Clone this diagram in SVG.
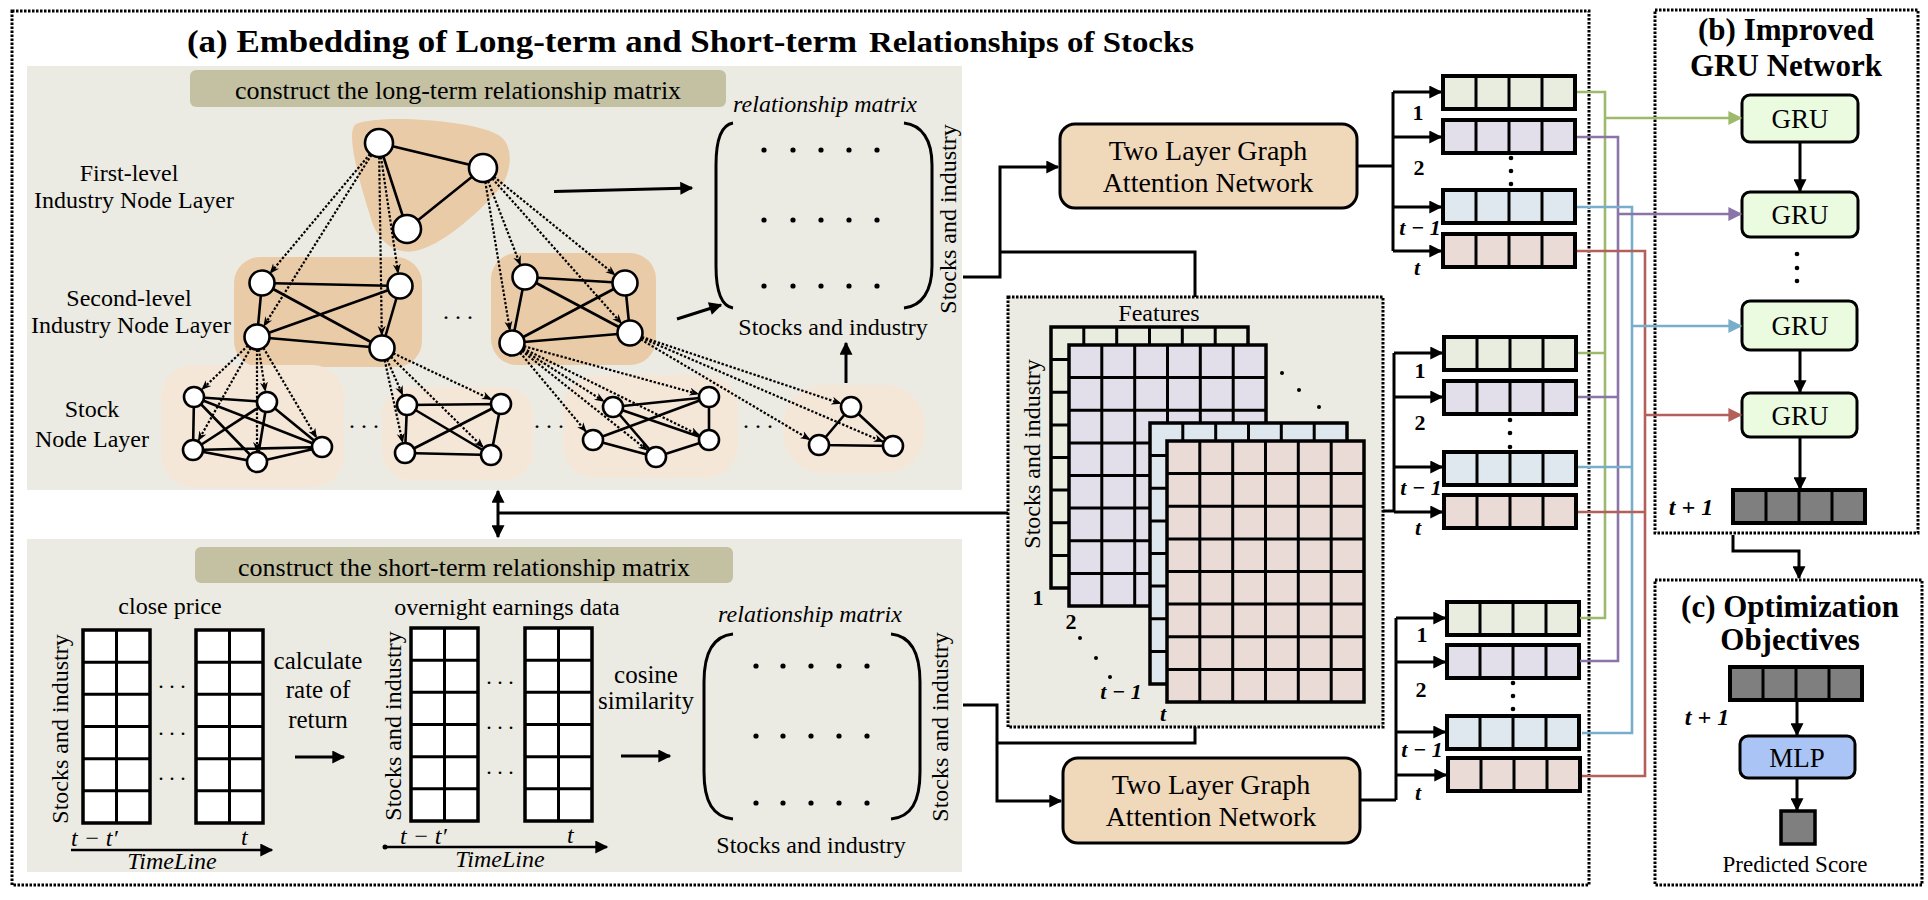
<svg xmlns="http://www.w3.org/2000/svg" xmlns:xlink="http://www.w3.org/1999/xlink" width="1928" height="900" viewBox="0 0 1928 900">
<style>
.t{font-family:"Liberation Serif","Times New Roman",serif;fill:#000}
.b{font-weight:bold}
.i{font-style:italic}
.dbox{fill:none;stroke:#000;stroke-width:3;stroke-dasharray:2.5 1.5}
.edge{stroke:#000;stroke-width:2.6;fill:none}
.dash{stroke:#000;stroke-width:2.2;stroke-dasharray:2.4 1.8;fill:none}
.nd{fill:#fff;stroke:#000;stroke-width:2.6}
.conn{stroke:#000;stroke-width:3;fill:none}
.panel{fill:#ECEBE3}
.pill{fill:#C4C1A2}
.blobA{fill:#EACBA8}
.blobB{fill:#F5E7D8}
.gru{fill:#EAFBE0;stroke:#000;stroke-width:3}
.gat{fill:#F0D9BB;stroke:#000;stroke-width:3}
.cg{stroke:#9DBA6C;stroke-width:2.6;fill:none}
.cp{stroke:#8B74A8;stroke-width:2.6;fill:none}
.cb{stroke:#78AEC9;stroke-width:2.6;fill:none}
.cr{stroke:#B4605A;stroke-width:2.6;fill:none}
</style>
<defs>
<marker id="ah" viewBox="0 0 10 10" refX="9" refY="5" markerWidth="15" markerHeight="13" markerUnits="userSpaceOnUse" orient="auto"><path d="M0,0 L10,5 L0,10 z" fill="#000"/></marker>
<marker id="dh" viewBox="0 0 10 10" refX="9" refY="5" markerWidth="10" markerHeight="10" markerUnits="userSpaceOnUse" orient="auto"><path d="M0,1 L10,5 L0,9 L3,5 z" fill="#000"/></marker>
<marker id="ag" viewBox="0 0 10 10" refX="9" refY="5" markerWidth="15" markerHeight="14" markerUnits="userSpaceOnUse" orient="auto"><path d="M0,0 L10,5 L0,10 z" fill="#9DBA6C"/></marker>
<marker id="ap" viewBox="0 0 10 10" refX="9" refY="5" markerWidth="15" markerHeight="14" markerUnits="userSpaceOnUse" orient="auto"><path d="M0,0 L10,5 L0,10 z" fill="#8B74A8"/></marker>
<marker id="ab" viewBox="0 0 10 10" refX="9" refY="5" markerWidth="15" markerHeight="14" markerUnits="userSpaceOnUse" orient="auto"><path d="M0,0 L10,5 L0,10 z" fill="#78AEC9"/></marker>
<marker id="ar" viewBox="0 0 10 10" refX="9" refY="5" markerWidth="15" markerHeight="14" markerUnits="userSpaceOnUse" orient="auto"><path d="M0,0 L10,5 L0,10 z" fill="#B4605A"/></marker>
<g id="vec"><rect width="132" height="33" stroke="#000" stroke-width="4"/><path d="M33 0V33M66 0V33M99 0V33" stroke="#000" stroke-width="3" fill="none"/></g>
<g id="fg"><rect width="197" height="261" stroke="#000" stroke-width="3.5"/><path d="M32.8 0V261M65.7 0V261M98.5 0V261M131.3 0V261M164.2 0V261M0 32.6H197M0 65.3H197M0 97.9H197M0 130.5H197M0 163.1H197M0 195.8H197M0 228.4H197" stroke="#000" stroke-width="3" fill="none"/></g>
<g id="sm"><rect width="67" height="193" fill="#fff" stroke="#000" stroke-width="3.5"/><path d="M33.5 0V193M0 32.2H67M0 64.3H67M0 96.5H67M0 128.7H67M0 160.8H67" stroke="#000" stroke-width="3" fill="none"/></g>
</defs>
<rect width="1928" height="900" fill="#fff"/>

<!-- (a) frame -->
<g id="frame-a">
<rect class="dbox" x="12" y="11" width="1577" height="874"/>
<text class="t b" x="187" y="52" font-size="32" textLength="670" lengthAdjust="spacingAndGlyphs">(a) Embedding of Long-term and Short-term</text>
<text class="t b" x="869" y="52" font-size="29" textLength="325" lengthAdjust="spacingAndGlyphs">Relationships of Stocks</text>
</g>

<!-- long-term panel -->
<g id="long-term-panel">
<rect class="panel" x="27" y="66" width="935" height="424"/>
<rect class="pill" x="190" y="70" width="536" height="37" rx="6"/>
<text class="t" x="458" y="99" font-size="26" text-anchor="middle">construct the long-term relationship matrix</text>
<text class="t" x="129" y="181" font-size="24" text-anchor="middle">First-level</text>
<text class="t" x="134" y="208" font-size="24" text-anchor="middle">Industry Node Layer</text>
<text class="t" x="129" y="306" font-size="24" text-anchor="middle">Second-level</text>
<text class="t" x="131" y="333" font-size="24" text-anchor="middle">Industry Node Layer</text>
<text class="t" x="92" y="417" font-size="24" text-anchor="middle">Stock</text>
<text class="t" x="92" y="447" font-size="24" text-anchor="middle">Node Layer</text>
</g>

<g id="industry-graph">
<path class="blobA" d="M356 124 C380 114,475 120,500 136 C514 146,512 172,500 188 C475 217,440 246,415 251 C394 255,378 240,372 222 C362 190,344 132,356 124 Z"/>
<rect class="blobA" x="234" y="257" width="188" height="110" rx="26"/>
<rect class="blobA" x="491" y="253" width="165" height="112" rx="26"/>
<rect class="blobB" x="161" y="365" width="183" height="122" rx="32"/>
<rect class="blobB" x="382" y="387" width="151" height="93" rx="28"/>
<rect class="blobB" x="563" y="375" width="175" height="103" rx="32"/>
<rect class="blobB" x="783" y="385" width="142" height="88" rx="40"/>
<!-- solid edges -->
<path class="edge" d="M379 143L483 168L407 229Z"/>
<path class="edge" d="M262 283L400 286M262 283L382 348M400 286L257 337M257 337L382 348M262 283L257 337M400 286L382 348"/>
<path class="edge" d="M525 277L625 283M525 277L630 333M625 283L512 343M512 343L630 333M525 277L512 343M625 283L630 333"/>
<path class="edge" d="M194 397L267 402M194 397L193 450M194 397L257 462M194 397L322 447M267 402L193 450M267 402L257 462M267 402L322 447M193 450L257 462M257 462L322 447M193 450L322 447"/>
<path class="edge" d="M407 405L501 404M407 405L405 453M407 405L491 455M501 404L405 453M405 453L491 455M501 404L491 455"/>
<path class="edge" d="M613 407L709 397M613 407L709 440M593 440L709 397M593 440L656 457M613 407L656 457M656 457L709 440M709 397L709 440"/>
<path class="edge" d="M851 407L819 445M851 407L893 446M819 445L893 446"/>
<!-- dotted arrows -->
<g marker-end="url(#dh)">
<path class="dash" d="M370 154L270.3 273"/>
<path class="dash" d="M371.5 154.8L263.9 326"/>
<path class="dash" d="M381 157L398.1 273.1"/>
<path class="dash" d="M379.2 157L381.8 335"/>
<path class="dash" d="M488 181L520.3 264.9"/>
<path class="dash" d="M493.9 176.8L614.9 274.8"/>
<path class="dash" d="M485.3 181.8L509.9 330.2"/>
<path class="dash" d="M492.3 178.5L621.4 323.3"/>
<path class="dash" d="M248 345.6L202 389.4"/>
<path class="dash" d="M258.9 349.4L265.3 391.1"/>
<path class="dash" d="M250.8 347.9L198.4 440.4"/>
<path class="dash" d="M257 349.5L257 451"/>
<path class="dash" d="M263.4 347.8L316.4 437.5"/>
<path class="dash" d="M387 359.5L402.6 394.9"/>
<path class="dash" d="M393.3 353.3L491 399.3"/>
<path class="dash" d="M384.7 360.2L402.6 442.3"/>
<path class="dash" d="M390.9 356.8L483.1 447.3"/>
<path class="dash" d="M522.6 349.7L603.7 401.1"/>
<path class="dash" d="M520 352.6L586 431.6"/>
<path class="dash" d="M521.8 350.8L647.4 450.2"/>
<path class="dash" d="M524 346.3L698.4 394.1"/>
<path class="dash" d="M523.2 348.5L699.1 435.1"/>
<path class="dash" d="M641.9 337L840.6 403.5"/>
<path class="dash" d="M640.8 339.4L809.5 439.4"/>
<path class="dash" d="M641.5 337.9L882.9 441.7"/>
</g>
<!-- nodes -->
<circle class="nd" cx="379" cy="143" r="14"/><circle class="nd" cx="483" cy="168" r="14"/><circle class="nd" cx="407" cy="229" r="14"/>
<circle class="nd" cx="262" cy="283" r="12.5"/><circle class="nd" cx="400" cy="286" r="12.5"/><circle class="nd" cx="257" cy="337" r="12.5"/><circle class="nd" cx="382" cy="348" r="12.5"/>
<circle class="nd" cx="525" cy="277" r="12.5"/><circle class="nd" cx="625" cy="283" r="12.5"/><circle class="nd" cx="512" cy="343" r="12.5"/><circle class="nd" cx="630" cy="333" r="12.5"/>
<circle class="nd" cx="194" cy="397" r="10"/><circle class="nd" cx="267" cy="402" r="10"/><circle class="nd" cx="193" cy="450" r="10"/><circle class="nd" cx="257" cy="462" r="10"/><circle class="nd" cx="322" cy="447" r="10"/>
<circle class="nd" cx="407" cy="405" r="10"/><circle class="nd" cx="501" cy="404" r="10"/><circle class="nd" cx="405" cy="453" r="10"/><circle class="nd" cx="491" cy="455" r="10"/>
<circle class="nd" cx="613" cy="407" r="10"/><circle class="nd" cx="709" cy="397" r="10"/><circle class="nd" cx="593" cy="440" r="10"/><circle class="nd" cx="656" cy="457" r="10"/><circle class="nd" cx="709" cy="440" r="10"/>
<circle class="nd" cx="851" cy="407" r="10"/><circle class="nd" cx="819" cy="445" r="10"/><circle class="nd" cx="893" cy="446" r="10"/>
<text class="t" x="458" y="319" font-size="24" text-anchor="middle">. . .</text>
<text class="t" x="364" y="428" font-size="24" text-anchor="middle">. . .</text>
<text class="t" x="549" y="428" font-size="24" text-anchor="middle">. . .</text>
<text class="t" x="758" y="428" font-size="24" text-anchor="middle">. . .</text>
</g>

<g id="long-matrix">
<text class="t i" x="825" y="112" font-size="24" text-anchor="middle">relationship matrix</text>
<path class="conn" d="M733 123 C721 125,716 140,716 165 L716 266 C716 291,721 306,733 308"/>
<path class="conn" d="M904 123 C922 125,932 140,932 165 L932 266 C932 291,922 306,904 308"/>
<g fill="#000"><circle cx="764" cy="150" r="2.6"/><circle cx="793" cy="150" r="2.6"/><circle cx="821" cy="150" r="2.6"/><circle cx="849" cy="150" r="2.6"/><circle cx="877" cy="150" r="2.6"/>
<circle cx="764" cy="220" r="2.6"/><circle cx="793" cy="220" r="2.6"/><circle cx="821" cy="220" r="2.6"/><circle cx="849" cy="220" r="2.6"/><circle cx="877" cy="220" r="2.6"/>
<circle cx="764" cy="286" r="2.6"/><circle cx="793" cy="286" r="2.6"/><circle cx="821" cy="286" r="2.6"/><circle cx="849" cy="286" r="2.6"/><circle cx="877" cy="286" r="2.6"/></g>
<text class="t" x="833" y="335" font-size="24" text-anchor="middle">Stocks and industry</text>
<text class="t" font-size="24" text-anchor="middle" transform="translate(956,219) rotate(-90)">Stocks and industry</text>
</g>

<!-- short-term panel -->
<g id="short-term-panel">
<rect class="panel" x="27" y="539" width="935" height="333"/>
<rect class="pill" x="195" y="547" width="538" height="36" rx="6"/>
<text class="t" x="464" y="576" font-size="26" text-anchor="middle">construct the short-term relationship matrix</text>
<text class="t" x="170" y="614" font-size="24" text-anchor="middle">close price</text>
<text class="t" font-size="24" text-anchor="middle" transform="translate(68,729) rotate(-90)">Stocks and industry</text>
<use href="#sm" x="83" y="630"/>
<use href="#sm" x="196" y="630"/>
<text class="t" x="172" y="688" font-size="22" text-anchor="middle">. . .</text>
<text class="t" x="172" y="735" font-size="22" text-anchor="middle">. . .</text>
<text class="t" x="172" y="780" font-size="22" text-anchor="middle">. . .</text>
<text class="t i" x="71" y="846" font-size="24">t − t′</text>
<text class="t i" x="241" y="845" font-size="24">t</text>
<path class="edge" d="M71 850H272" marker-end="url(#ah)"/>
<text class="t i" x="172" y="869" font-size="24" text-anchor="middle">TimeLine</text>
<text class="t" x="318" y="669" font-size="25" text-anchor="middle">calculate</text>
<text class="t" x="318" y="698" font-size="25" text-anchor="middle">rate of</text>
<text class="t" x="318" y="728" font-size="25" text-anchor="middle">return</text>
<path class="conn" d="M295 757H344" marker-end="url(#ah)"/>
<text class="t" x="507" y="615" font-size="24" text-anchor="middle">overnight earnings data</text>
<text class="t" font-size="24" text-anchor="middle" transform="translate(401,726) rotate(-90)">Stocks and industry</text>
<use href="#sm" x="411" y="628"/>
<use href="#sm" x="525" y="628"/>
<text class="t" x="500" y="684" font-size="22" text-anchor="middle">. . .</text>
<text class="t" x="500" y="729" font-size="22" text-anchor="middle">. . .</text>
<text class="t" x="500" y="774" font-size="22" text-anchor="middle">. . .</text>
<circle cx="385" cy="847" r="2.5" fill="#000"/>
<text class="t i" x="400" y="844" font-size="24">t − t′</text>
<text class="t i" x="567" y="843" font-size="24">t</text>
<path class="edge" d="M385 847H607" marker-end="url(#ah)"/>
<text class="t i" x="500" y="867" font-size="24" text-anchor="middle">TimeLine</text>
<text class="t" x="646" y="683" font-size="25" text-anchor="middle">cosine</text>
<text class="t" x="646" y="709" font-size="25" text-anchor="middle">similarity</text>
<path class="conn" d="M621 756H670" marker-end="url(#ah)"/>
</g>

<g id="short-matrix">
<text class="t i" x="810" y="622" font-size="24" text-anchor="middle">relationship matrix</text>
<path class="conn" d="M733 634 C713 636,704 652,704 682 L704 772 C704 802,713 817,733 819"/>
<path class="conn" d="M891 634 C911 636,920 652,920 682 L920 772 C920 802,911 817,891 819"/>
<g fill="#000"><circle cx="756" cy="666" r="2.6"/><circle cx="783" cy="666" r="2.6"/><circle cx="811" cy="666" r="2.6"/><circle cx="839" cy="666" r="2.6"/><circle cx="867" cy="666" r="2.6"/>
<circle cx="756" cy="736" r="2.6"/><circle cx="783" cy="736" r="2.6"/><circle cx="811" cy="736" r="2.6"/><circle cx="839" cy="736" r="2.6"/><circle cx="867" cy="736" r="2.6"/>
<circle cx="756" cy="803" r="2.6"/><circle cx="783" cy="803" r="2.6"/><circle cx="811" cy="803" r="2.6"/><circle cx="839" cy="803" r="2.6"/><circle cx="867" cy="803" r="2.6"/></g>
<text class="t" x="811" y="853" font-size="24" text-anchor="middle">Stocks and industry</text>
<text class="t" font-size="24" text-anchor="middle" transform="translate(948,727) rotate(-90)">Stocks and industry</text>
</g>

<!-- features stack -->
<g id="features">
<rect class="panel" x="1008" y="297" width="375" height="430"/>
<rect class="dbox" x="1008" y="297" width="375" height="430"/>
<text class="t" x="1159" y="321" font-size="24" text-anchor="middle">Features</text>
<text class="t" font-size="24" text-anchor="middle" transform="translate(1040,454) rotate(-90)">Stocks and industry</text>
<use href="#fg" x="1051" y="327" fill="#E9EDDF"/>
<use href="#fg" x="1069" y="345" fill="#E2DFEA"/>
<use href="#fg" x="1150" y="423" fill="#DEE6EE"/>
<use href="#fg" x="1167" y="441" fill="#EADBD6"/>
<g fill="#000"><circle cx="1282" cy="373" r="2"/><circle cx="1299" cy="390" r="2"/><circle cx="1319" cy="407" r="2"/>
<circle cx="1080" cy="638" r="2"/><circle cx="1096" cy="658" r="2"/><circle cx="1110" cy="677" r="2"/></g>
<text class="t b" x="1038" y="605" font-size="22" text-anchor="middle">1</text>
<text class="t b" x="1071" y="629" font-size="22" text-anchor="middle">2</text>
<text class="t b i" x="1121" y="699" font-size="22" text-anchor="middle">t − 1</text>
<text class="t b i" x="1163" y="721" font-size="22" text-anchor="middle">t</text>
</g>

<!-- GAT boxes -->
<g id="gat-long">
<rect class="gat" x="1060" y="124" width="297" height="84" rx="15"/>
<text class="t" x="1208" y="160" font-size="28" text-anchor="middle">Two Layer Graph</text>
<text class="t" x="1208" y="192" font-size="28" text-anchor="middle">Attention Network</text>
</g>
<g id="gat-short">
<rect class="gat" x="1063" y="758" width="297" height="85" rx="15"/>
<text class="t" x="1211" y="794" font-size="28" text-anchor="middle">Two Layer Graph</text>
<text class="t" x="1211" y="826" font-size="28" text-anchor="middle">Attention Network</text>
</g>

<!-- vector groups -->
<g id="vectors-top">
<use href="#vec" x="1443" y="76" fill="#E9EDDF"/>
<use href="#vec" x="1443" y="120" fill="#E2DFEA"/>
<use href="#vec" x="1443" y="190" fill="#DEE8EE"/>
<use href="#vec" x="1443" y="234" fill="#EADBD6"/>
<g fill="#000"><circle cx="1511" cy="158" r="2.3"/><circle cx="1511" cy="171" r="2.3"/><circle cx="1511" cy="184" r="2.3"/></g>
<text class="t b" x="1418" y="120" font-size="22" text-anchor="middle">1</text>
<text class="t b" x="1419" y="175" font-size="22" text-anchor="middle">2</text>
<text class="t b i" x="1420" y="235" font-size="22" text-anchor="middle">t − 1</text>
<text class="t b i" x="1417" y="275" font-size="22" text-anchor="middle">t</text>
</g>
<g id="vectors-mid">
<use href="#vec" x="1444" y="337" fill="#E9EDDF"/>
<use href="#vec" x="1444" y="381" fill="#E2DFEA"/>
<use href="#vec" x="1444" y="452" fill="#DEE8EE"/>
<use href="#vec" x="1444" y="495" fill="#EADBD6"/>
<g fill="#000"><circle cx="1510" cy="420" r="2.3"/><circle cx="1510" cy="433" r="2.3"/><circle cx="1510" cy="447" r="2.3"/></g>
<text class="t b" x="1420" y="378" font-size="22" text-anchor="middle">1</text>
<text class="t b" x="1420" y="430" font-size="22" text-anchor="middle">2</text>
<text class="t b i" x="1421" y="495" font-size="22" text-anchor="middle">t − 1</text>
<text class="t b i" x="1418" y="535" font-size="22" text-anchor="middle">t</text>
</g>
<g id="vectors-bottom">
<use href="#vec" x="1447" y="602" fill="#E9EDDF"/>
<use href="#vec" x="1447" y="645" fill="#E2DFEA"/>
<use href="#vec" x="1447" y="716" fill="#DEE8EE"/>
<use href="#vec" x="1448" y="758" fill="#EADBD6"/>
<g fill="#000"><circle cx="1513" cy="683" r="2.3"/><circle cx="1513" cy="696" r="2.3"/><circle cx="1513" cy="709" r="2.3"/></g>
<text class="t b" x="1422" y="642" font-size="22" text-anchor="middle">1</text>
<text class="t b" x="1421" y="697" font-size="22" text-anchor="middle">2</text>
<text class="t b i" x="1422" y="757" font-size="22" text-anchor="middle">t − 1</text>
<text class="t b i" x="1418" y="800" font-size="22" text-anchor="middle">t</text>
</g>

<!-- (b) GRU -->
<g id="frame-b">
<rect class="dbox" x="1655" y="10" width="263" height="523"/>
<text class="t b" x="1786" y="40" font-size="31" text-anchor="middle">(b) Improved</text>
<text class="t b" x="1786" y="76" font-size="31" text-anchor="middle">GRU Network</text>
</g>
<g id="gru1"><rect class="gru" x="1742" y="95" width="116" height="47" rx="8"/><text class="t" x="1800" y="128" font-size="27" text-anchor="middle">GRU</text></g>
<g id="gru2"><rect class="gru" x="1742" y="192" width="116" height="45" rx="8"/><text class="t" x="1800" y="224" font-size="27" text-anchor="middle">GRU</text></g>
<g id="gru3"><rect class="gru" x="1742" y="301" width="115" height="49" rx="8"/><text class="t" x="1800" y="335" font-size="27" text-anchor="middle">GRU</text></g>
<g id="gru4"><rect class="gru" x="1742" y="393" width="115" height="44" rx="8"/><text class="t" x="1800" y="425" font-size="27" text-anchor="middle">GRU</text></g>
<g fill="#000"><circle cx="1797" cy="254" r="2.3"/><circle cx="1797" cy="268" r="2.3"/><circle cx="1797" cy="281" r="2.3"/></g>
<g id="out-vector">
<use href="#vec" x="1733" y="490" fill="#7F7F7F"/>
<text class="t b i" x="1691" y="515" font-size="24" text-anchor="middle">t + 1</text>
</g>

<!-- (c) -->
<g id="frame-c">
<rect class="dbox" x="1655" y="580" width="267" height="305"/>
<text class="t b" x="1790" y="617" font-size="31" text-anchor="middle">(c) Optimization</text>
<text class="t b" x="1790" y="650" font-size="31" text-anchor="middle">Objectives</text>
</g>
<g id="c-vector">
<use href="#vec" x="1730" y="667" fill="#7F7F7F"/>
<text class="t b i" x="1707" y="725" font-size="24" text-anchor="middle">t + 1</text>
</g>
<g id="mlp"><rect x="1740" y="736" width="115" height="42" rx="8" fill="#A9C4F5" stroke="#000" stroke-width="3"/><text class="t" x="1797" y="767" font-size="27" text-anchor="middle">MLP</text></g>
<g id="score"><rect x="1781" y="811" width="34" height="33" fill="#7F7F7F" stroke="#000" stroke-width="3.5"/><text class="t" x="1795" y="872" font-size="23" text-anchor="middle">Predicted Score</text></g>

<!-- connectors -->
<g id="connectors">
<path class="conn" d="M554 191.5L692 188" marker-end="url(#ah)"/>
<path class="conn" d="M677 319L721 305" marker-end="url(#ah)"/>
<path class="conn" d="M846 383L846 343" marker-end="url(#ah)"/>
<path class="conn" d="M963 277H1000V167H1058" marker-end="url(#ah)"/>
<path class="conn" d="M1000 252H1195V297"/>
<path class="conn" d="M963 705H997V801H1061" marker-end="url(#ah)"/>
<path class="conn" d="M997 743H1195V727"/>
<path class="conn" d="M498 513H1008"/>
<path class="conn" d="M498 513V491" marker-end="url(#ah)"/>
<path class="conn" d="M498 513V537" marker-end="url(#ah)"/>
<path class="conn" d="M1357 166H1393"/>
<path class="conn" d="M1393 92V251"/>
<path class="conn" d="M1393 92H1441" marker-end="url(#ah)"/>
<path class="conn" d="M1393 137H1441" marker-end="url(#ah)"/>
<path class="conn" d="M1393 207H1441" marker-end="url(#ah)"/>
<path class="conn" d="M1393 251H1441" marker-end="url(#ah)"/>
<path class="conn" d="M1383 511H1394"/>
<path class="conn" d="M1394 353V512"/>
<path class="conn" d="M1394 353H1442" marker-end="url(#ah)"/>
<path class="conn" d="M1394 397H1442" marker-end="url(#ah)"/>
<path class="conn" d="M1394 467H1442" marker-end="url(#ah)"/>
<path class="conn" d="M1394 512H1442" marker-end="url(#ah)"/>
<path class="conn" d="M1360 800H1396"/>
<path class="conn" d="M1396 618V800"/>
<path class="conn" d="M1396 618H1445" marker-end="url(#ah)"/>
<path class="conn" d="M1396 662H1445" marker-end="url(#ah)"/>
<path class="conn" d="M1396 732H1445" marker-end="url(#ah)"/>
<path class="conn" d="M1396 775H1446" marker-end="url(#ah)"/>
<path class="cg" d="M1577 92H1605V618H1580M1578 353H1605"/>
<path class="cp" d="M1577 137H1618V661H1580M1578 397H1618"/>
<path class="cb" d="M1577 207H1632V733H1582M1578 467H1632"/>
<path class="cr" d="M1577 251H1645V776H1582M1578 512H1645"/>
<path class="cg" d="M1605 118H1741" marker-end="url(#ag)"/>
<path class="cp" d="M1618 214H1741" marker-end="url(#ap)"/>
<path class="cb" d="M1632 326H1741" marker-end="url(#ab)"/>
<path class="cr" d="M1645 415H1741" marker-end="url(#ar)"/>
<path class="conn" d="M1800 142V191" marker-end="url(#ah)"/>
<path class="conn" d="M1800 350V392" marker-end="url(#ah)"/>
<path class="conn" d="M1800 437V489" marker-end="url(#ah)"/>
<path class="conn" d="M1733 535V551H1799V578" marker-end="url(#ah)"/>
<path class="conn" d="M1797 701V735" marker-end="url(#ah)"/>
<path class="conn" d="M1797 778V810" marker-end="url(#ah)"/>
</g>
</svg>
